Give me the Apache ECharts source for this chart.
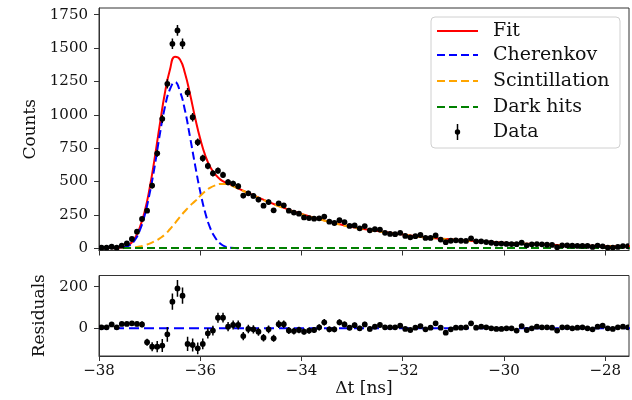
<!DOCTYPE html>
<html>
<head>
<meta charset="utf-8">
<script src="https://cdn.jsdelivr.net/npm/echarts@6/dist/echarts.min.js"></script>
<style>html,body{margin:0;padding:0;background:#fff;}#c{width:632px;height:400px;}</style>
</head>
<body>
<div id="c"></div>
<script>
// ---- data ----
const binCenters = [-37.95,-37.85,-37.75,-37.65,-37.55,-37.45,-37.35,-37.25,-37.15,-37.05,
  -36.95,-36.85,-36.75,-36.65,-36.55,-36.45,-36.35,-36.25,-36.15,-36.05,
  -35.95,-35.85,-35.75,-35.65,-35.55,-35.45,-35.35,-35.25,-35.15,-35.05,
  -34.95,-34.85,-34.75,-34.65,-34.55,-34.45,-34.35,-34.25,-34.15,-34.05,
  -33.95,-33.85,-33.75,-33.65,-33.55,-33.45,-33.35,-33.25,-33.15,-33.05,
  -32.95,-32.85,-32.75,-32.65,-32.55,-32.45,-32.35,-32.25,-32.15,-32.05,
  -31.95,-31.85,-31.75,-31.65,-31.55,-31.45,-31.35,-31.25,-31.15,-31.05,
  -30.95,-30.85,-30.75,-30.65,-30.55,-30.45,-30.35,-30.25,-30.15,-30.05,
  -29.95,-29.85,-29.75,-29.65,-29.55,-29.45,-29.35,-29.25,-29.15,-29.05,
  -28.95,-28.85,-28.75,-28.65,-28.55,-28.45,-28.35,-28.25,-28.15,-28.05,
  -27.95,-27.85,-27.75,-27.65,-27.55];
const counts = [5,5,12,5,20,37,70,125,220,282,
  470,712,970,1232,1532,1632,1532,1167,982,795,
  675,617,562,582,550,495,485,465,395,412,
  393,365,320,347,285,337,322,282,268,260,
  232,227,222,225,238,200,190,211,197,168,
  172,150,167,135,143,141,116,108,106,116,
  93,83,91,100,78,78,97,66,46,57,
  60,57,56,75,53,53,47,42,36,36,
  33,32,31,42,23,30,32,30,27,26,
  9,22,22,20,18,18,18,11,21,15,
  6,6,11,17,16];
const residuals = [5,5,19,5,21,21,24,21,19,-67,
  -88,-88,-83,-29,128,192,157,-75,-80,-96,
  -75,-24,-11,51,51,8,16,16,-37,-3,
  -5,-16,-45,-5,-48,20,20,-10,-13,-8,
  -16,-11,-8,5,29,-5,-5,29,19,3,
  15,0,19,-3,8,16,5,5,5,13,
  -3,-8,3,11,-5,3,24,3,-21,-5,
  3,3,5,24,3,8,5,0,-3,-3,
  0,0,-11,11,-8,0,8,5,5,3,
  -11,5,5,0,3,5,0,-5,8,13,
  0,-3,5,8,5];
const curveX = [-38,-37.8,-37.6,-37.5,-37.4,-37.3,-37.2,-37.1,-37.0,-36.9,
  -36.8,-36.7,-36.6,-36.5,-36.4,-36.3,-36.2,-36.1,-36.0,-35.9,
  -35.8,-35.7,-35.6,-35.5,-35.4,-35.2,-35.0,-34.5,-34.0,-33.5,
  -33.0,-32.5,-32.0,-31.5,-31.0,-30.5,-30.0,-29.5,-29.0,-28.5,
  -28.0,-27.5];
const fitY = [2,2,5,11,28,70,150,272,450,675,
  925,1160,1335,1435,1415,1310,1152,976,820,695,
  607,552,515,493,478,440,406,325,258,205,
  160,130,104,82,66,53,42,34,27,22,
  18,15];
const cherenkovY = [0,0,3,8,22,58,130,245,410,615,
  850,1055,1190,1245,1175,1030,830,620,425,265,
  150,78,35,13,4,0,null,null,null,null,
  null,null,null,null,null,null,null,null,null,null,
  null,null];
const scintY = [0,0,1,2,4,8,14,22,36,53,
  75,103,143,188,236,280,320,354,393,428,
  455,472,482,482,472,438,404,323,256,203,
  158,128,102,80,64,51,40,32,25,20,
  16,13];
const darkX = [-38,-27.5];
const darkY = [2,2];
const zeroX = [-38,-27.5];
const zeroY = [0,0];
const xTicks = [-38,-36,-34,-32,-30,-28];
const yTicksMain = [0,250,500,750,1000,1250,1500,1750];
const yTicksRes = [0,200];
const legendItems = ['Fit','Cherenkov','Scintillation','Dark hits','Data'];

// ---- chart ----
const FONT = 'DejaVu Serif';
const TXT = '#111';
const AX = '#333';
const zip = (xs, ys) => xs.map((x,i)=>[x, ys[i]]);
const fmtX = v => (v < 0 ? '\u2212' : '') + Math.abs(v);
const fmtY = v => (v < 0 ? '\u2212' : '') + String(Math.abs(v));

function renderErr(params, api) {
  const x = api.value(0), y = api.value(1);
  const e = Math.sqrt(Math.max(api.value(2), 0));
  const p = api.coord([x, y]);
  const lo = api.coord([x, y - e]);
  const hi = api.coord([x, y + e]);
  return {type:'group', children:[
    {type:'line', shape:{x1:p[0], y1:lo[1], x2:p[0], y2:hi[1]}, style:{stroke:'#000', lineWidth:1.5}},
    {type:'circle', shape:{cx:p[0], cy:p[1], r:2.9}, style:{fill:'#000'}}
  ]};
}

const xBase = (gi, showLabel) => ({
  gridIndex: gi, type:'value', min:-38, max:-27.53,
  axisLine:{show:true, onZero:false, lineStyle:{color:AX, width:1}},
  axisTick:{show:true, length:5, customValues:xTicks, lineStyle:{color:AX, width:1}},
  axisLabel:{show:showLabel, customValues:xTicks, formatter:fmtX, fontFamily:FONT, fontSize:15, color:TXT, margin:8},
  splitLine:{show:false}
});

const option = {
  animation:false,
  backgroundColor:'#fff',
  grid:[
    {left:99, top:8, width:530, height:242.5, show:true, borderColor:AX, borderWidth:1, backgroundColor:'transparent'},
    {left:99, top:275.5, width:530, height:80.5, show:true, borderColor:AX, borderWidth:1, backgroundColor:'transparent'}
  ],
  xAxis:[
    xBase(0,false),
    Object.assign(xBase(1,true), {name:'\u0394t [ns]', nameLocation:'middle', nameGap:23,
      nameTextStyle:{fontFamily:FONT, fontSize:17, color:TXT}})
  ],
  yAxis:[
    {gridIndex:0, type:'value', min:-16, max:1800,
      name:'Counts', nameLocation:'middle', nameGap:54, nameRotate:90,
      nameTextStyle:{fontFamily:FONT, fontSize:17, color:TXT},
      axisLine:{show:true, lineStyle:{color:AX, width:1}},
      axisTick:{show:true, length:5, customValues:yTicksMain, lineStyle:{color:AX, width:1}},
      axisLabel:{customValues:yTicksMain, formatter:fmtY, fontFamily:FONT, fontSize:15, color:TXT, margin:11},
      splitLine:{show:false}},
    {gridIndex:1, type:'value', min:-133, max:254,
      name:'Residuals', nameLocation:'middle', nameGap:46, nameRotate:90,
      nameTextStyle:{fontFamily:FONT, fontSize:17, color:TXT},
      axisLine:{show:true, lineStyle:{color:AX, width:1}},
      axisTick:{show:true, length:5, customValues:yTicksRes, lineStyle:{color:AX, width:1}},
      axisLabel:{customValues:yTicksRes, formatter:fmtY, fontFamily:FONT, fontSize:15, color:TXT, margin:11},
      splitLine:{show:false}}
  ],
  series:[
    {type:'line', name:'Fit', xAxisIndex:0, yAxisIndex:0, data:zip(curveX, fitY), smooth:0.5,
      showSymbol:false, lineStyle:{color:'#ff0000', width:2}, z:2},
    {type:'line', name:'Cherenkov', xAxisIndex:0, yAxisIndex:0, data:zip(curveX, cherenkovY), smooth:0.5,
      showSymbol:false, lineStyle:{color:'#0000ff', width:2, type:[8,4]}, z:3},
    {type:'line', name:'Scintillation', xAxisIndex:0, yAxisIndex:0, data:zip(curveX, scintY), smooth:0.5,
      showSymbol:false, lineStyle:{color:'#ffa500', width:2, type:[8,4]}, z:3},
    {type:'line', name:'Dark hits', xAxisIndex:0, yAxisIndex:0, data:zip(darkX, darkY),
      showSymbol:false, lineStyle:{color:'#008000', width:2, type:[8,4]}, z:3},
    {type:'custom', name:'Data', xAxisIndex:0, yAxisIndex:0, clip:true, renderItem:renderErr,
      data:binCenters.map((x,i)=>[x, counts[i], counts[i]]), z:5},
    {type:'line', xAxisIndex:1, yAxisIndex:1, data:zip(zeroX, zeroY),
      showSymbol:false, lineStyle:{color:'#0000ff', width:2, type:[10,5]}, z:2},
    {type:'custom', xAxisIndex:1, yAxisIndex:1, clip:true, renderItem:renderErr,
      data:binCenters.map((x,i)=>[x, residuals[i], counts[i]]), z:5}
  ],
  graphic:[]
};

// legend drawn as graphic group
const legColors = ['#ff0000','#0000ff','#ffa500','#008000'];
const legY = [31, 55, 81, 107, 132];
const g = [{type:'rect', shape:{x:431, y:17, width:189, height:131, r:4},
  style:{fill:'rgba(255,255,255,0.85)', stroke:'#d0d0d0', lineWidth:1}, z:100}];
legendItems.forEach((name,i)=>{
  if (i < 4) {
    g.push({type:'line', shape:{x1:437, y1:legY[i], x2:478, y2:legY[i]},
      style:{stroke:legColors[i], lineWidth:2, lineDash: i===0 ? null : [8,4]}, z:101});
  } else {
    g.push({type:'line', shape:{x1:457.5, y1:legY[i]-8, x2:457.5, y2:legY[i]+8}, style:{stroke:'#000', lineWidth:1.5}, z:101});
    g.push({type:'circle', shape:{cx:457.5, cy:legY[i], r:2.7}, style:{fill:'#000'}, z:101});
  }
  g.push({type:'text', x:493, y:legY[i], style:{text:name, fontFamily:FONT, fontSize:19, fill:TXT,
    textAlign:'left', textVerticalAlign:'middle'}, z:101});
});
option.graphic = g;

const chart = echarts.init(document.getElementById('c'), null, {renderer:'canvas'});
chart.setOption(option);
</script>
</body>
</html>
